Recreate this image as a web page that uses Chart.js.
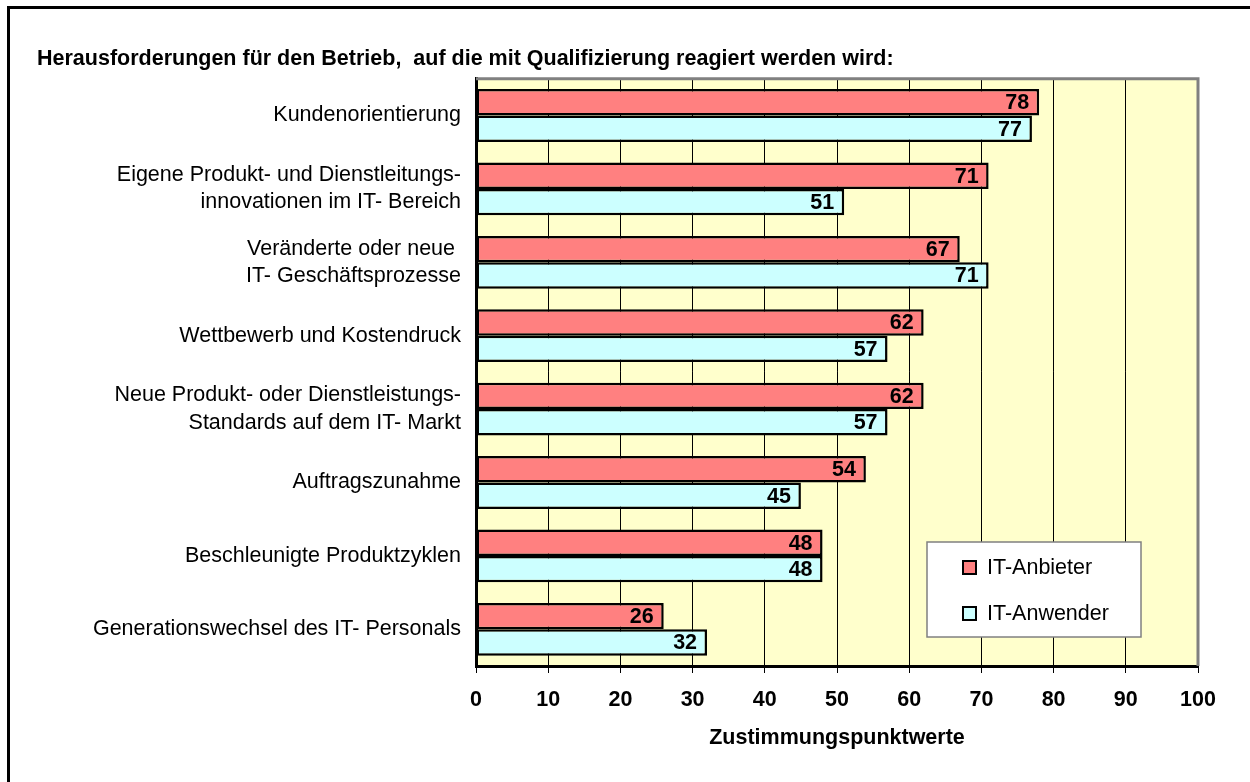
<!DOCTYPE html>
<html>
<head>
<meta charset="utf-8">
<script src="https://cdn.jsdelivr.net/npm/chart.js@4/dist/chart.umd.min.js"></script>
<style>
  html, body { margin: 0; padding: 0; background: #fff; overflow: hidden; }
  #wrap { position: relative; width: 1250px; height: 782px; }
  #frame { position: absolute; left: 7px; top: 6px; width: 1300px; height: 900px;
           border-top: 3px solid #000; border-left: 3px solid #000; }
  canvas { position: absolute; left: 0; top: 0; }
</style>
</head>
<body>
<div id="wrap">
  <div id="frame"></div>
  <canvas id="chart" width="1250" height="782"></canvas>
</div>
<script>
const categories = [
  'Kundenorientierung',
  ['Eigene Produkt- und Dienstleitungs-', 'innovationen im IT- Bereich'],
  ['Veränderte oder neue ', 'IT- Geschäftsprozesse'],
  'Wettbewerb und Kostendruck',
  ['Neue Produkt- oder Dienstleistungs-', 'Standards auf dem IT- Markt'],
  'Auftragszunahme',
  'Beschleunigte Produktzyklen',
  'Generationswechsel des IT- Personals'
];
const anbieter = [78, 71, 67, 62, 62, 54, 48, 26];
const anwender = [77, 51, 71, 57, 57, 45, 48, 32];
const seriesNames = ['IT-Anbieter', 'IT-Anwender'];
const xTicks = [0, 10, 20, 30, 40, 50, 60, 70, 80, 90, 100];

const FONT = 'Arial, "Liberation Sans", sans-serif';
const FS = 21.5;

// plot background + grey frame on top/right
const plotBg = {
  id: 'plotBg',
  beforeDraw(chart) {
    const a = chart.chartArea, ctx = chart.ctx;
    ctx.save();
    ctx.fillStyle = '#FFFFCC';
    ctx.fillRect(a.left, a.top, a.right - a.left, a.bottom - a.top);
    ctx.restore();
  },
  afterDraw(chart) {
    const a = chart.chartArea, ctx = chart.ctx;
    ctx.save();
    ctx.strokeStyle = '#808080';
    ctx.lineWidth = 3;
    ctx.beginPath();
    ctx.moveTo(a.left, a.top);
    ctx.lineTo(a.right, a.top);
    ctx.lineTo(a.right, a.bottom);
    ctx.stroke();
    ctx.restore();
  }
};

// value labels at the inner end of each bar
const barLabels = {
  id: 'barLabels',
  afterDatasetsDraw(chart) {
    const ctx = chart.ctx;
    ctx.save();
    ctx.font = 'bold ' + FS + 'px ' + FONT;
    ctx.fillStyle = '#000';
    ctx.textAlign = 'right';
    ctx.textBaseline = 'middle';
    chart.data.datasets.forEach((ds, i) => {
      chart.getDatasetMeta(i).data.forEach((bar, j) => {
        ctx.fillText(String(ds.data[j]), bar.x - 10, bar.y + 1);
      });
    });
    ctx.restore();
  }
};

// boxed legend inside the plot, lower right
const boxLegend = {
  id: 'boxLegend',
  afterDraw(chart) {
    const a = chart.chartArea, ctx = chart.ctx;
    const left = a.right - 271, top = a.bottom - 124, w = 214, h = 95;
    ctx.save();
    ctx.fillStyle = '#fff';
    ctx.fillRect(left, top, w, h);
    ctx.strokeStyle = '#808080';
    ctx.lineWidth = 1.5;
    ctx.strokeRect(left, top, w, h);
    ctx.font = FS + 'px ' + FONT;
    ctx.textBaseline = 'middle';
    ctx.textAlign = 'left';
    chart.data.datasets.forEach((ds, i) => {
      const cy = top + 25 + i * 46;
      ctx.fillStyle = ds.backgroundColor;
      ctx.fillRect(left + 36, cy - 6, 13, 13);
      ctx.strokeStyle = '#000';
      ctx.lineWidth = 2;
      ctx.strokeRect(left + 36, cy - 6, 13, 13);
      ctx.fillStyle = '#000';
      ctx.fillText(ds.label, left + 60, cy + 1);
    });
    ctx.restore();
  }
};

new Chart(document.getElementById('chart'), {
  type: 'bar',
  data: {
    labels: categories,
    datasets: [
      { label: seriesNames[0], data: anbieter, backgroundColor: '#FF8080',
        borderColor: '#000', borderWidth: 2.5, borderSkipped: false },
      { label: seriesNames[1], data: anwender, backgroundColor: '#CCFFFF',
        borderColor: '#000', borderWidth: 2.5, borderSkipped: false }
    ]
  },
  options: {
    indexAxis: 'y',
    responsive: false,
    animation: false,
    devicePixelRatio: 1,
    categoryPercentage: 0.72,
    barPercentage: 1.0,
    layout: { padding: { left: 37, top: 46, right: 52, bottom: 20 } },
    plugins: {
      legend: { display: false },
      tooltip: { enabled: false },
      title: {
        display: true,
        align: 'start',
        text: 'Herausforderungen für den Betrieb,  auf die mit Qualifizierung reagiert werden wird:',
        color: '#000',
        font: { family: FONT, size: FS, weight: 'bold' },
        padding: { top: 0, bottom: 7 }
      }
    },
    scales: {
      x: {
        min: 0,
        max: 100,
        afterBuildTicks(scale) { scale.ticks = xTicks.map(v => ({ value: v })); },
        afterFit(scale) { scale.height = 96; },
        grid: { color: '#000', lineWidth: 1, drawTicks: true, tickLength: 7, tickColor: '#000' },
        border: { display: true, color: '#000', width: 3 },
        ticks: { color: '#000', padding: 14, maxRotation: 0,
                 font: { family: FONT, size: FS, weight: 'bold' } },
        title: {
          display: true,
          text: 'Zustimmungspunktwerte',
          color: '#000',
          font: { family: FONT, size: FS, weight: 'bold' },
          padding: { top: 11, bottom: 11 }
        }
      },
      y: {
        afterFit(scale) { scale.width = 439; },
        grid: { display: false, drawTicks: false },
        border: { display: true, color: '#000', width: 3 },
        ticks: { color: '#000', padding: 15,
                 font: { family: FONT, size: FS, lineHeight: 1.26 } }
      }
    }
  },
  plugins: [plotBg, barLabels, boxLegend]
});
</script>
</body>
</html>
